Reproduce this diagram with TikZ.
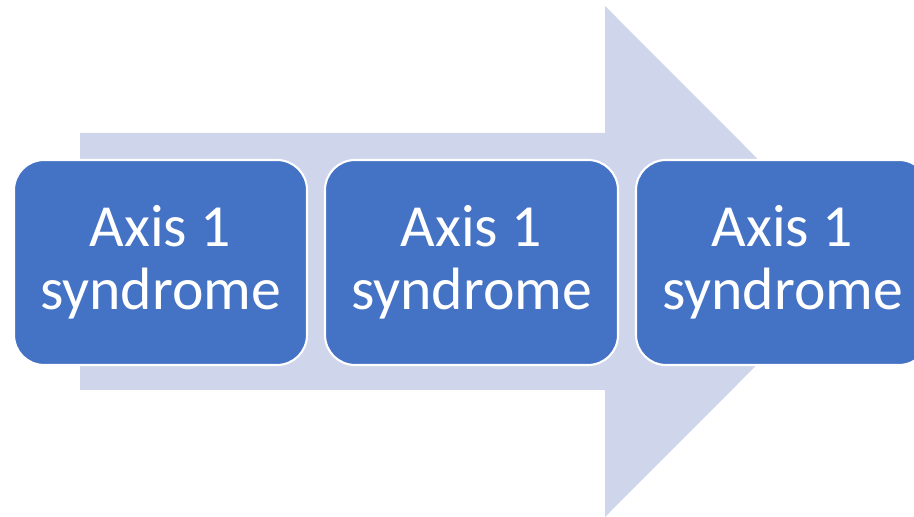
\documentclass[tikz,border=0pt]{standalone}
\usepackage{fontspec}
\setmainfont{Carlito}
\definecolor{AxisBlue}{RGB}{68, 114, 196}
\definecolor{ArrowLight}{RGB}{207, 213, 234}
\tikzstyle{axis} = [rectangle, rounded corners=0.6cm, minimum width=5.86cm, minimum height=4.1cm, text centered, align=center, draw=white, line width=1.2pt, fill=AxisBlue, text=white, font=\fontsize{34}{36}\selectfont]
\tikzstyle{flow} = [fill=ArrowLight, draw=none]

\begin{document}
\begin{tikzpicture}

\useasboundingbox (0,0) rectangle (18.28,10.34);

% Flèche de fond
\fill [flow] (1.6,7.68) -- (12.1,7.68) -- (12.1,10.22) -- (17.2,5.11) -- (12.1,0) -- (12.1,2.54) -- (1.6,2.54) -- cycle;

% Étapes
\node (axisA) [axis] at (3.21,5.09) {Axis 1\\syndrome};
\node (axisB) [axis] at (9.43,5.09) {Axis 1\\syndrome};
\node (axisC) [axis] at (15.65,5.09) {Axis 1\\syndrome};

\end{tikzpicture}
\end{document}
